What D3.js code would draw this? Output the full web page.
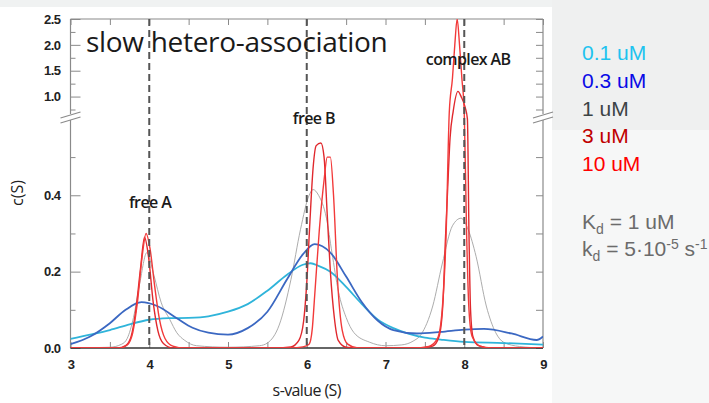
<!DOCTYPE html>
<html lang="en">
<head>
    <meta charset="UTF-8">
    <title>slow hetero-association</title>
    <script src="https://d3js.org/d3.v7.min.js"></script>
    <style>
        body { margin: 0; background: #f6f7f7; }
        svg { display: block; }
        .tick line { stroke: #8a8a8a; }
        .tick text { font-family: "Liberation Sans", Arial, sans-serif; font-weight: bold; font-size: 13px; fill: #222; letter-spacing: -0.5px; }
    </style>
</head>
<body>
    <div id="chart"></div>

    <script>
        // c(S) distributions, [s-value, c(S)] pairs
        const legendLabels = ["0.1 uM", "0.3 uM", "1 uM", "3 uM", "10 uM"];

        const conc01 = [[3.0,0.024],[3.25,0.035],[3.5,0.047],[3.75,0.062],[4.0,0.074],[4.25,0.078],[4.5,0.079],
            [4.75,0.083],[5.0,0.095],[5.25,0.115],[5.5,0.15],[5.75,0.192],[5.95,0.218],[6.05,0.222],[6.15,0.215],
            [6.3,0.2],[6.5,0.16],[6.7,0.115],[6.9,0.075],[7.1,0.052],[7.3,0.037],[7.5,0.027],[7.7,0.022],
            [8.0,0.016],[8.5,0.013],[9.0,0.009]];

        const conc03 = [[3.0,0.01],[3.25,0.03],[3.5,0.065],[3.7,0.1],[3.9,0.12],[4.1,0.11],[4.35,0.078],[4.55,0.053],
            [4.75,0.04],[5.0,0.035],[5.25,0.052],[5.5,0.095],[5.75,0.18],[5.95,0.245],[6.1,0.272],[6.3,0.25],
            [6.5,0.187],[6.7,0.12],[6.9,0.072],[7.1,0.047],[7.4,0.038],[7.7,0.042],[8.0,0.048],[8.25,0.05],
            [8.6,0.038],[8.92,0.021],[9.0,0.03]];

        const conc1 = [[3.0,0.0],[3.5,0.002],[3.65,0.01],[3.72,0.025],[3.8,0.08],[3.88,0.17],[3.97,0.25],[4.06,0.19],
            [4.15,0.12],[4.26,0.075],[4.35,0.04],[4.45,0.02],[4.6,0.006],[5.0,0.002],[5.4,0.006],[5.5,0.013],
            [5.65,0.06],[5.8,0.18],[5.92,0.31],[6.03,0.4],[6.08,0.415],[6.15,0.4],[6.25,0.34],[6.32,0.25],
            [6.4,0.15],[6.5,0.08],[6.6,0.04],[6.8,0.015],[7.0,0.006],[7.2,0.008],[7.35,0.018],[7.45,0.035],
            [7.6,0.11],[7.72,0.22],[7.85,0.32],[7.96,0.34],[8.05,0.31],[8.15,0.24],[8.28,0.11],[8.4,0.04],
            [8.5,0.015],[8.7,0.004],[9.0,0.0]];

        const conc3 = [[3.0,0.0],[3.6,0.0],[3.7,0.006],[3.77,0.03],[3.83,0.1],[3.89,0.21],[3.94,0.29],[3.99,0.24],
            [4.05,0.12],[4.11,0.045],[4.18,0.012],[4.3,0.0],
            [5.6,0.0],[5.8,0.003],[5.9,0.02],[5.96,0.07],[6.0,0.17],[6.04,0.33],[6.08,0.47],[6.12,0.53],[6.18,0.537],
            [6.22,0.5],[6.26,0.35],[6.3,0.2],[6.35,0.08],[6.4,0.02],[6.5,0.002],[6.6,0.0],
            [7.4,0.0],[7.6,0.005],[7.68,0.03],[7.73,0.12],[7.76,0.28],[7.79,0.42],[7.82,0.55],[7.86,0.72],
            [7.92,1.1],[7.96,1.0],[8.01,0.8],[8.04,0.6],[8.06,0.3],[8.08,0.1],[8.11,0.03],[8.18,0.006],
            [8.35,0.0],[9.0,0.0]];

        const conc10 = [[3.0,0.0],[3.62,0.0],[3.72,0.008],[3.79,0.04],[3.85,0.12],[3.91,0.24],[3.96,0.3],[4.01,0.26],
            [4.07,0.16],[4.13,0.075],[4.2,0.025],[4.3,0.005],[4.45,0.0],
            [5.8,0.0],[5.95,0.003],[6.03,0.01],[6.07,0.05],[6.1,0.135],[6.16,0.31],[6.22,0.44],[6.26,0.5],[6.3,0.5],
            [6.34,0.4],[6.39,0.18],[6.45,0.047],[6.52,0.01],[6.65,0.0],
            [7.35,0.0],[7.55,0.004],[7.66,0.025],[7.72,0.1],[7.77,0.3],[7.81,0.7],[7.85,1.35],[7.88,2.0],
            [7.91,2.5],[7.94,2.0],[7.97,1.35],[8.0,0.7],[8.03,0.3],[8.06,0.1],[8.1,0.03],[8.2,0.005],
            [8.35,0.0],[9.0,0.0]];

        const xTicks = [3, 4, 5, 6, 7, 8, 9];
        const xMinorTicks = [3.5, 4.5, 5.5, 6.5, 7.5, 8.5];
        const yTicks = [0.0, 0.2, 0.4, 1.0, 1.5, 2.0, 2.5];
        const yMinorTicks = [0.1, 0.3, 0.5, 0.75, 1.25, 1.75, 2.25];
        const speciesS = [4, 6, 8];
        const speciesLabels = ["free A", "free B", "complex AB"];

        const width = 709, height = 403;
        const plot = { left: 70.5, right: 543, top: 19, bottom: 348, breakY: 117 };

        const svg = d3.select("#chart")
            .append("svg")
            .attr("width", width)
            .attr("height", height);

        // slide backgrounds
        svg.append("rect").attr("x", 552).attr("y", 0).attr("width", width - 552).attr("height", 130).attr("fill", "#eff0f0");
        svg.append("rect").attr("x", 0).attr("y", 0).attr("width", 552).attr("height", 7).attr("fill", "#f0f2f2");
        svg.append("rect").attr("x", 0).attr("y", 7).attr("width", 552).attr("height", height - 7).attr("fill", "#fff");

        const x = d3.scaleLinear().domain([3, 9]).range([plot.left, plot.right]);
        // broken axis: lower part 0-0.6, compressed upper part up to 2.5
        const y = d3.scaleLinear().domain([0, 0.605, 2.5]).range([plot.bottom, plot.breakY, plot.top]);

        svg.append("defs").append("clipPath").attr("id", "plotclip")
            .append("rect")
            .attr("x", plot.left).attr("y", plot.top)
            .attr("width", plot.right - plot.left).attr("height", plot.bottom - plot.top);

        // axes, ticks pointing inward
        const allX = xTicks.concat(xMinorTicks);
        svg.append("g")
            .attr("transform", `translate(0,${plot.bottom})`)
            .call(d3.axisBottom(x).tickValues(allX).tickSize(-6).tickPadding(12)
                .tickFormat(d => xTicks.includes(d) ? d : ""))
            .call(g => g.select(".domain").remove());

        svg.append("g")
            .attr("transform", `translate(0,${plot.top})`)
            .call(d3.axisTop(x).tickValues(allX).tickSize(-6).tickFormat(""))
            .call(g => g.select(".domain").remove());

        svg.append("g")
            .attr("transform", `translate(${plot.left},0)`)
            .call(d3.axisLeft(y).tickValues(yTicks).tickSize(-10).tickPadding(10).tickFormat(d3.format(".1f")))
            .call(g => g.select(".domain").remove());

        svg.append("g")
            .attr("transform", `translate(${plot.left},0)`)
            .call(d3.axisLeft(y).tickValues(yMinorTicks).tickSize(-5).tickFormat(""))
            .call(g => g.select(".domain").remove());

        svg.append("g")
            .attr("transform", `translate(${plot.right},0)`)
            .call(d3.axisRight(y).tickValues(yTicks.concat(yMinorTicks)).tickSize(-7).tickFormat(""))
            .call(g => g.select(".domain").remove());

        // frame with gaps at the break
        const frame = svg.append("g").attr("stroke", "#8a8a8a").attr("stroke-width", 1.2).attr("fill", "none");
        [plot.left, plot.right].forEach(px => {
            frame.append("line").attr("x1", px).attr("x2", px).attr("y1", plot.top).attr("y2", plot.breakY - 3);
            frame.append("line").attr("x1", px).attr("x2", px).attr("y1", plot.breakY + 3).attr("y2", plot.bottom);
            frame.append("line").attr("x1", px - 10).attr("x2", px + 10).attr("y1", plot.breakY + 1).attr("y2", plot.breakY - 5);
            frame.append("line").attr("x1", px - 10).attr("x2", px + 10).attr("y1", plot.breakY + 6).attr("y2", plot.breakY);
        });
        frame.append("line").attr("x1", plot.left).attr("x2", plot.right).attr("y1", plot.top).attr("y2", plot.top);
        svg.append("line")
            .attr("x1", plot.left).attr("x2", plot.right)
            .attr("y1", plot.bottom).attr("y2", plot.bottom)
            .attr("stroke", "#333").attr("stroke-width", 1.6);

        // curves
        const line = d3.line()
            .x(d => x(d[0]))
            .y(d => y(d[1]))
            .curve(d3.curveMonotoneX);

        const curves = [
            { data: conc1, color: "#a3a3a3", w: 0.9 },
            { data: conc01, color: "#2fb4da", w: 1.8 },
            { data: conc03, color: "#3b68c2", w: 1.8 },
            { data: conc3, color: "#e0282d", w: 1.4 },
            { data: conc10, color: "#f23a3a", w: 1.4 }
        ];

        svg.append("g")
            .attr("clip-path", "url(#plotclip)")
            .selectAll("path")
            .data(curves)
            .enter()
            .append("path")
            .attr("d", d => line(d.data))
            .attr("fill", "none")
            .attr("stroke", d => d.color)
            .attr("stroke-width", d => d.w)
            .attr("stroke-linejoin", "round");

        // species markers
        svg.selectAll(".species-line")
            .data(speciesS)
            .enter()
            .append("line")
            .attr("class", "species-line")
            .attr("x1", d => x(d)).attr("x2", d => x(d))
            .attr("y1", plot.top).attr("y2", plot.bottom)
            .attr("stroke", "#555")
            .attr("stroke-width", 2)
            .attr("stroke-dasharray", "7,4");

        const labelPos = [[4.01, 0.367], [6.09, 0.587], [8.05, 1.61]];
        svg.selectAll(".species-label")
            .data(speciesLabels)
            .enter()
            .append("text")
            .attr("class", "species-label")
            .attr("x", (d, i) => x(labelPos[i][0]))
            .attr("y", (d, i) => y(labelPos[i][1]))
            .attr("text-anchor", "middle")
            .style("font-family", "'Open Sans', sans-serif")
            .style("font-size", "16px")
            .style("font-weight", 600)
            .style("letter-spacing", "-0.6px")
            .style("fill", "#1a1a1a")
            .text(d => d);

        svg.append("text")
            .attr("x", 86).attr("y", 52)
            .style("font-family", "'Open Sans', sans-serif")
            .style("font-size", "28px")
            .style("font-weight", 500)
            .style("letter-spacing", "-0.3px")
            .style("fill", "#1a1a1a")
            .text("slow hetero-association");

        // axis titles
        svg.append("text")
            .attr("transform", "translate(23,193) rotate(-90)")
            .attr("text-anchor", "middle")
            .style("font-family", "'Open Sans', sans-serif")
            .style("font-size", "16px")
            .style("font-weight", 500)
            .style("fill", "#222")
            .text("c(S)");

        svg.append("text")
            .attr("x", x(6)).attr("y", 396)
            .attr("text-anchor", "middle")
            .style("font-family", "'Open Sans', sans-serif")
            .style("font-size", "16px")
            .style("font-weight", 500)
            .style("letter-spacing", "-0.6px")
            .style("fill", "#222")
            .text("s-value (S)");

        // legend on the slide
        const legendColors = ["#1ec3ef", "#0a0ae6", "#3c4446", "#c00000", "#ff0000"];
        svg.selectAll(".legend")
            .data(legendLabels)
            .enter()
            .append("text")
            .attr("class", "legend")
            .attr("x", 582)
            .attr("y", (d, i) => 60 + i * 27.8)
            .style("font-family", "'Liberation Sans', Arial, sans-serif")
            .style("font-size", "21px")
            .style("fill", (d, i) => legendColors[i])
            .text(d => d);

        const kd = svg.append("g")
            .style("font-family", "'Liberation Sans', Arial, sans-serif")
            .style("font-size", "21px")
            .style("fill", "#6b6b6b");

        const t1 = kd.append("text").attr("x", 582).attr("y", 229);
        t1.append("tspan").text("K");
        t1.append("tspan").attr("dy", 5).style("font-size", "14px").text("d");
        t1.append("tspan").attr("dy", -5).text(" = 1 uM");

        const t2 = kd.append("text").attr("x", 582).attr("y", 256);
        t2.append("tspan").text("k");
        t2.append("tspan").attr("dy", 5).style("font-size", "14px").text("d");
        t2.append("tspan").attr("dy", -5).text(" = 5\u00b710");
        t2.append("tspan").attr("dy", -7).style("font-size", "14px").text("-5");
        t2.append("tspan").attr("dy", 7).text(" s");
        t2.append("tspan").attr("dy", -7).style("font-size", "14px").text("-1");
    </script>
</body>
</html>
